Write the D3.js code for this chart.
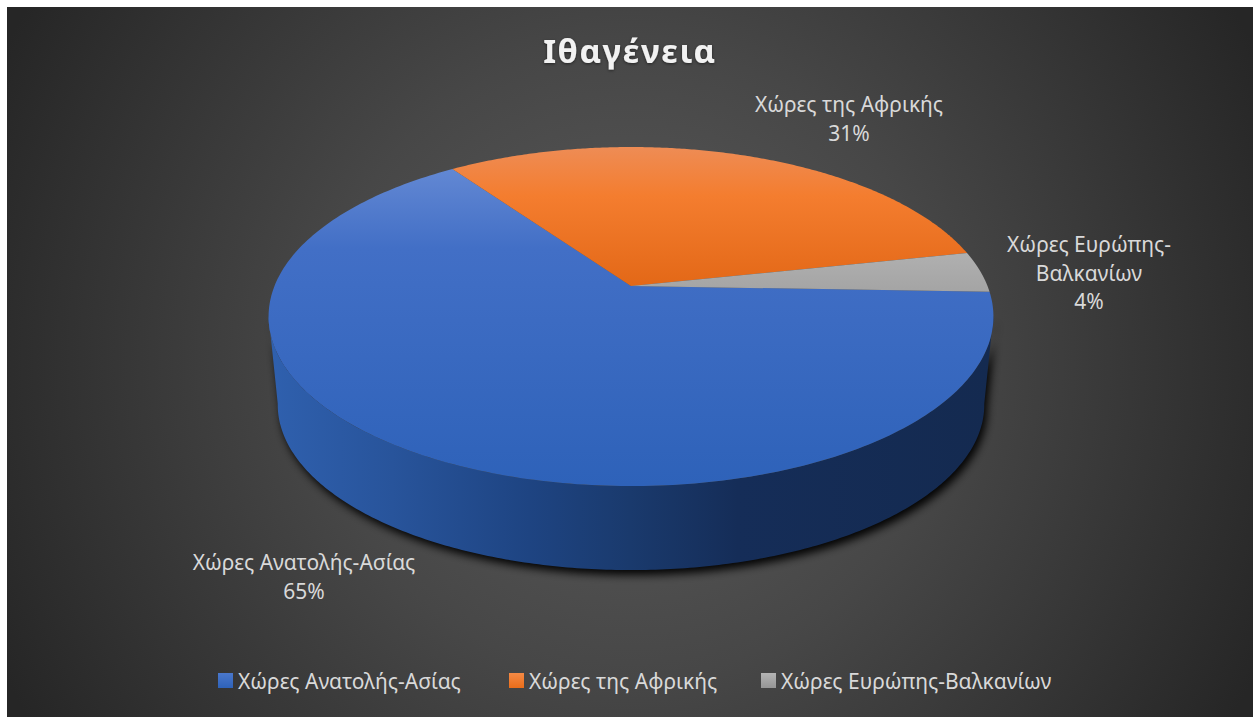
<!DOCTYPE html>
<html lang="el">
<head>
<meta charset="utf-8">
<title>Ιθαγένεια</title>
<script src="https://d3js.org/d3.v7.min.js"></script>
<style>
html,body{margin:0;padding:0;background:#fff;overflow:hidden}
svg{display:block}
text{font-family:"Noto Sans","Open Sans",sans-serif}
</style>
</head>
<body>
<svg id="chart" width="1253" height="717"></svg>
<script>
const titleText = "Ιθαγένεια";
const categories = ["Χώρες Ανατολής-Ασίας", "Χώρες της Αφρικής", "Χώρες Ευρώπης-Βαλκανίων"];
const values = [64.7, 31.4, 3.9];
const labelLines = [["Χώρες Ανατολής-Ασίας"], ["Χώρες της Αφρικής"], ["Χώρες Ευρώπης-", "Βαλκανίων"]];

(function () {
const deg = Math.PI / 180;
const svg = d3.select("#chart");
const defs = svg.append("defs");

// background
const bg = defs.append("radialGradient").attr("id", "bg").attr("gradientUnits", "userSpaceOnUse")
  .attr("cx", 630).attr("cy", 362).attr("r", 700);
[[0, "#5c5c5c"], [0.45, "#474747"], [1, "#262626"]].forEach(s => bg.append("stop").attr("offset", s[0]).attr("stop-color", s[1]));
svg.append("rect").attr("x", 7).attr("y", 7).attr("width", 1246).attr("height", 710).attr("fill", "url(#bg)");

// face gradients
const faces = [
  {id: "f0", y1: 147, y2: 486, stops: [[0, "#6a8fd8"], [0.12, "#5b82d0"], [0.3, "#426fc6"], [1, "#2e62b9"]]},
  {id: "f1", y1: 147, y2: 286, stops: [[0, "#ee8c55"], [0.35, "#f47d2f"], [1, "#e36817"]]},
  {id: "f2", y1: 253, y2: 292, stops: [[0, "#b0b0b0"], [1, "#a4a4a4"]]}
];
faces.forEach(f => {
  const g = defs.append("linearGradient").attr("id", f.id).attr("gradientUnits", "userSpaceOnUse")
    .attr("x1", 0).attr("x2", 0).attr("y1", f.y1).attr("y2", f.y2);
  f.stops.forEach(s => g.append("stop").attr("offset", s[0]).attr("stop-color", s[1]));
});
const swatches = [["s0", "#4a78cc", "#2e62b9"], ["s1", "#f58a45", "#e96d1a"], ["s2", "#b4b4b4", "#959595"]];
swatches.forEach(s => {
  const g = defs.append("linearGradient").attr("id", s[0]).attr("x1", 0).attr("x2", 0).attr("y1", 0).attr("y2", 1);
  g.append("stop").attr("offset", 0).attr("stop-color", s[1]);
  g.append("stop").attr("offset", 1).attr("stop-color", s[2]);
});
const wallGrad = defs.append("linearGradient").attr("id", "wall").attr("gradientUnits", "userSpaceOnUse")
  .attr("x1", 270).attr("x2", 990).attr("y1", 0).attr("y2", 0);
[[0, "#2f60ae"], [0.17, "#28549b"], [0.36, "#1e4482"], [0.5, "#1a3a6d"], [0.65, "#152d58"], [1, "#142a50"]]
  .forEach(s => wallGrad.append("stop").attr("offset", s[0]).attr("stop-color", s[1]));
const blur = defs.append("filter").attr("id", "blur").attr("x", "-10%").attr("y", "-10%").attr("width", "120%").attr("height", "120%");
blur.append("feGaussianBlur").attr("stdDeviation", 4);
const tShadow = defs.append("filter").attr("id", "tshadow").attr("x", "-10%").attr("y", "-30%").attr("width", "120%").attr("height", "160%");
tShadow.append("feDropShadow").attr("dx", 0).attr("dy", 1).attr("stdDeviation", 1.5).attr("flood-color", "#000").attr("flood-opacity", 0.5);

// perspective disc: a = clockwise angle from the back of the pie
const persp = 0.18;
function disc(cx, cy, bx, by) {
  return a => {
    const x = Math.sin(a), y = -Math.cos(a), w = 1 - persp * y;
    return [cx + bx * x / w, cy + by * y / w];
  };
}
const topDisc = disc(631, 286, 356.5, 164);
const baseDisc = disc(631, 375, 347.5, 160);

const startA = 92 * deg;
const pie = d3.pie().sort(null).value(d => d).startAngle(startA).endAngle(startA + 2 * Math.PI);
const arcs = pie(values);
const line = d3.line();
const sweep = (fn, a0, a1) => d3.range(0, 241).map(i => fn(a0 + (a1 - a0) * i / 240));

// shadow and side wall of the front slice
const wallA0 = Math.max(arcs[0].startAngle, 100 * deg), wallA1 = Math.min(arcs[0].endAngle, 260 * deg);
const wallPts = sweep(topDisc, wallA0, wallA1).concat(sweep(baseDisc, wallA1, wallA0));
svg.append("path").attr("d", line(wallPts) + "Z").attr("fill", "#000").attr("opacity", 0.95)
  .attr("transform", "translate(3,5)").attr("filter", "url(#blur)");
svg.append("path").attr("d", line(wallPts) + "Z").attr("fill", "url(#wall)");

// top faces
svg.append("g").selectAll("path").data(arcs).join("path")
  .attr("d", d => line([[631, 286]].concat(sweep(topDisc, d.startAngle, d.endAngle))) + "Z")
  .attr("fill", (d, i) => `url(#f${i})`);

// title
svg.append("text").attr("x", 630).attr("y", 63).attr("text-anchor", "middle")
  .attr("font-size", 33).attr("font-weight", 700).attr("letter-spacing", 1.6)
  .attr("fill", "#f2f2f2").attr("filter", "url(#tshadow)").text(titleText);

// data labels
const labelPos = [[304, 570], [849, 112], [1089, 252]];
const labelStep = 28.7;
const labels = svg.append("g").attr("fill", "#d9d9d9").attr("font-size", 21).attr("text-anchor", "middle");
categories.forEach((c, i) => {
  const t = labels.append("text").attr("x", labelPos[i][0]).attr("y", labelPos[i][1]);
  labelLines[i].concat([Math.round(values[i]) + "%"]).forEach((s, j) => {
    t.append("tspan").attr("x", labelPos[i][0]).attr("y", labelPos[i][1] + j * labelStep).text(s);
  });
});

// legend
const legendX = [218, 509, 761];
const legend = svg.append("g").selectAll("g").data(categories).join("g")
  .attr("transform", (d, i) => `translate(${legendX[i]},673)`);
legend.append("rect").attr("width", 15).attr("height", 15).attr("fill", (d, i) => `url(#s${i})`);
legend.append("text").attr("x", 20).attr("y", 16).attr("fill", "#d9d9d9").attr("font-size", 21).text(d => d);
})();
</script>
</body>
</html>
